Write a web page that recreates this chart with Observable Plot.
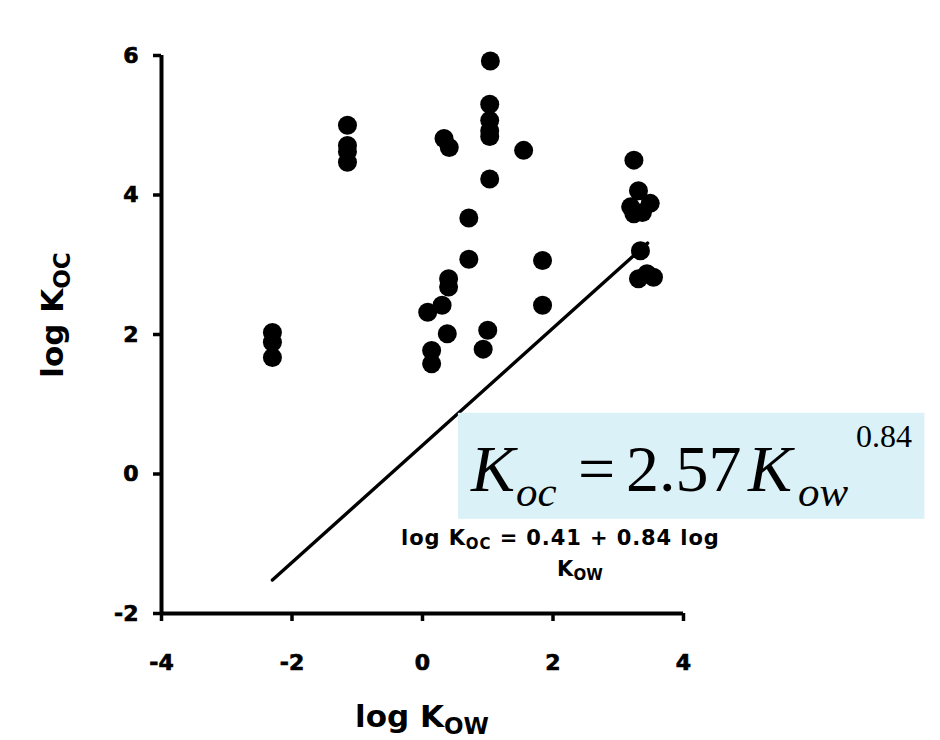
<!DOCTYPE html>
<html><head><meta charset="utf-8">
<script src="https://cdn.jsdelivr.net/npm/d3@7"></script>
<script src="https://cdn.jsdelivr.net/npm/@observablehq/plot@0.6"></script>
<style>
html,body{margin:0;padding:0;background:#fff;}
#chart{width:940px;height:740px;overflow:hidden;}
</style>
</head><body><div id="chart"></div>
<script>
// Observed points (log Kow, log Koc)
const logKow = [-2.30, -2.30, -2.30,
  -1.15, -1.15, -1.15, -1.15,
  0.33, 0.41,
  1.04, 1.03, 1.03, 1.03, 1.03, 1.03,
  1.55,
  3.24,
  3.31, 3.19, 3.49, 3.37, 3.24,
  3.34,
  3.44, 3.31, 3.54,
  0.71, 0.71,
  1.84, 1.84,
  0.40, 0.40,
  0.30, 0.08,
  0.38,
  1.00, 0.93,
  0.14, 0.14];
const logKoc = [2.03, 1.89, 1.67,
  5.00, 4.71, 4.62, 4.47,
  4.81, 4.68,
  5.92, 5.30, 5.07, 4.92, 4.84, 4.23,
  4.64,
  4.50,
  4.06, 3.83, 3.88, 3.75, 3.73,
  3.20,
  2.87, 2.80, 2.82,
  3.67, 3.08,
  3.06, 2.42,
  2.80, 2.68,
  2.42, 2.32,
  2.01,
  2.06, 1.79,
  1.77, 1.58];
// regression line end points
const fitKow = [-2.30, 3.45];
const fitKoc = [-1.52, 3.31];
// ticks
const xTicks = [-4, -2, 0, 2, 4];
const xTickLabels = ["-4", "-2", "0", "2", "4"];
const yTicks = [-2, 0, 2, 4, 6];
const yTickLabels = ["-2", "0", "2", "4", "6"];
// highlighted equation box extent (data units)
const boxKow = [0.55, 7.7];
const boxKoc = [-0.65, 0.87];
// texts
const xTitle = [["log K", false], ["OW", true]];
const yTitle = [["log K", false], ["OC", true]];
const fitText1 = [["log K", false], ["OC", true], [" = 0.41 + 0.84 log", false]];
const fitText2 = [["K", false], ["OW", true]];
const fitTextAnchor1 = [-0.32, -1.03];
const fitTextAnchor2 = [2.42, -1.47];

const points = logKow.map((x, i) => ({x, y: logKoc[i]}));
const fit = fitKow.map((x, i) => ({x, y: fitKoc[i]}));
const box = [{x1: boxKow[0], x2: boxKow[1], y1: boxKoc[0], y2: boxKoc[1]}];

const chart = Plot.plot({
  width: 940,
  height: 740,
  marginLeft: 161,
  marginRight: 257,
  marginTop: 55,
  marginBottom: 127,
  style: {fontFamily: "'DejaVu Sans', sans-serif", fontSize: "22px", fontWeight: "bold", background: "#fff", color: "#000", overflow: "visible"},
  x: {domain: [-4, 4]},
  y: {domain: [-2, 6]},
  marks: [
    Plot.line(fit, {x: "x", y: "y", stroke: "#000", strokeWidth: 3.4}),
    Plot.rect(box, {x1: "x1", x2: "x2", y1: "y1", y2: "y2", fill: "#daf2f7"}),
    Plot.dot(points, {x: "x", y: "y", r: 9.5, fill: "#000", stroke: "none"}),
    Plot.ruleY([-2], {strokeWidth: 4, stroke: "#000"}),
    Plot.ruleX([-4], {strokeWidth: 4, stroke: "#000"}),
    Plot.axisX({ticks: xTicks, tickFormat: (d, i) => xTickLabels[i], tickSize: 8, tickPadding: 33, strokeWidth: 3.5, label: null}),
    Plot.axisY({ticks: yTicks, tickFormat: (d, i) => yTickLabels[i], tickSize: 8, tickPadding: 15, strokeWidth: 3.5, label: null})
  ]
});
document.getElementById("chart").append(chart);

const sx = chart.scale("x"), sy = chart.scale("y");
const svg = d3.select(chart);
// heavier tick labels like the scanned original
svg.selectAll('g[aria-label="x-axis tick label"] text, g[aria-label="y-axis tick label"] text')
  .attr("stroke", "#000").attr("stroke-width", 0.7);

function richText(parent, parts, size, subSize, subShift, family, weight, anchor) {
  const t = parent.append("text")
    .attr("font-family", family).attr("font-weight", weight)
    .attr("font-size", size).attr("fill", "#000").attr("text-anchor", anchor);
  parts.forEach(([s, sub], i) => {
    const sp = t.append("tspan").text(s);
    if (sub) sp.attr("font-size", subSize).attr("dy", subShift);
    else if (i > 0 && parts[i - 1][1]) sp.attr("dy", -subShift);
  });
  return t;
}

const sansFam = "'DejaVu Sans', sans-serif";
// x axis title
richText(svg.append("g").attr("transform", `translate(${sx.apply(0)},${sy.apply(-2) + 114})`),
  xTitle, 31, 23, 7, sansFam, "bold", "middle");
// y axis title
richText(svg.append("g").attr("transform", `translate(${sx.apply(-4) - 98},${(sy.apply(-2) + sy.apply(6)) / 2 - 19}) rotate(-90)`),
  yTitle, 31, 23, 7, sansFam, "bold", "middle");

// regression annotation
richText(svg.append("g").attr("transform", `translate(${sx.apply(fitTextAnchor1[0])},${sy.apply(fitTextAnchor1[1])})`),
  fitText1, 21, 15, 4, sansFam, "bold", "start").attr("letter-spacing", "0.9px");
richText(svg.append("g").attr("transform", `translate(${sx.apply(fitTextAnchor2[0])},${sy.apply(fitTextAnchor2[1])})`),
  fitText2, 21, 15, 4, sansFam, "bold", "middle");

// equation in box: K_oc = 2.57 K_ow^0.84
const bx = sx.apply(boxKow[0]), by = sy.apply(boxKoc[1]);
const eq = svg.append("g").attr("transform", `translate(${bx},${by})`)
  .attr("font-family", "'Liberation Serif', 'Times New Roman', serif")
  .attr("font-weight", "normal").attr("text-anchor", "start").attr("fill", "#000");
const eqParts = [
  {s: "K", x: 13, y: 78, size: 66, it: true},
  {s: "oc", x: 58, y: 93, size: 43, it: true},
  {s: "=", x: 120, y: 78, size: 66, it: false},
  {s: "2.57", x: 168, y: 78, size: 66, it: false},
  {s: "K", x: 290, y: 78, size: 66, it: true},
  {s: "ow", x: 340, y: 93, size: 43, it: true},
  {s: "0.84", x: 398, y: 34, size: 32, it: false}
];
eqParts.forEach(p => {
  eq.append("text").attr("x", p.x).attr("y", p.y).attr("font-size", p.size)
    .attr("font-weight", "normal").attr("text-anchor", "start")
    .attr("font-style", p.it ? "italic" : "normal").text(p.s);
});
</script>
</body></html>
